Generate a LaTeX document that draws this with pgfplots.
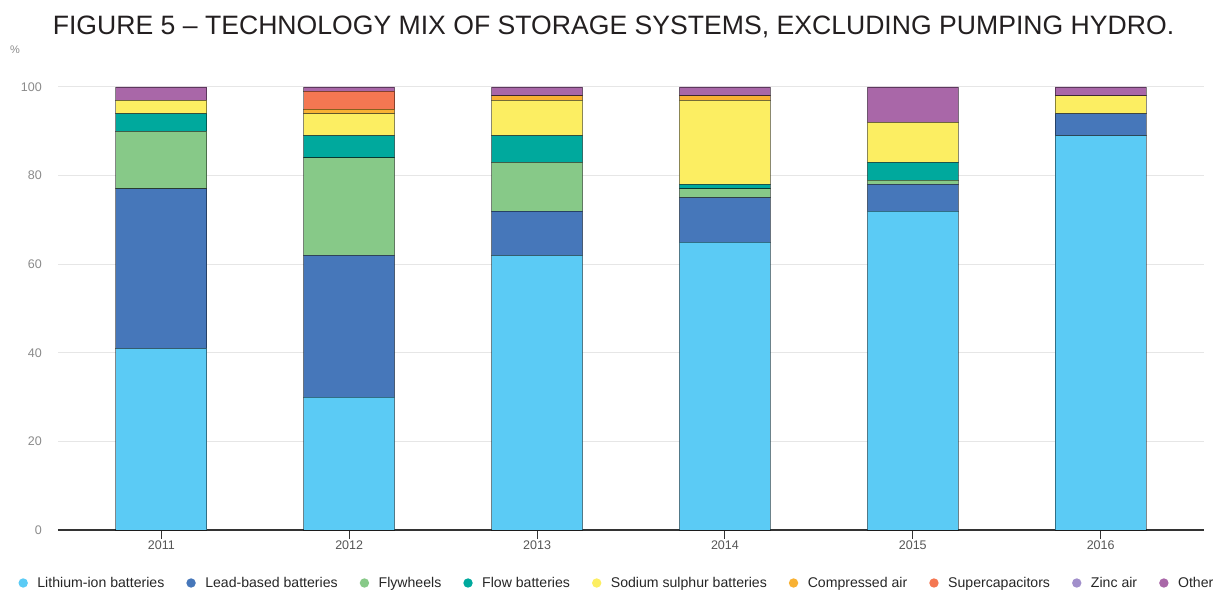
\documentclass[border=0pt]{standalone}
\usepackage{pgfplots}
\usepackage{pgfplotstable}
\pgfplotsset{compat=1.18}
\usepackage{fontspec}
\setmainfont{Liberation Sans}

\definecolor{cLi}{HTML}{5BCBF5}
\definecolor{cLead}{HTML}{4677BA}
\definecolor{cFly}{HTML}{87C988}
\definecolor{cFlow}{HTML}{00A99D}
\definecolor{cNaS}{HTML}{FCEE62}
\definecolor{cAir}{HTML}{F8B133}
\definecolor{cSup}{HTML}{F47752}
\definecolor{cZinc}{HTML}{A18FCB}
\definecolor{cOther}{HTML}{A967A8}
\definecolor{gridgray}{HTML}{E6E6E6}
\definecolor{axisdark}{HTML}{333333}
\definecolor{ticktext}{HTML}{555555}
\definecolor{ylabtext}{HTML}{8A8A8A}
\definecolor{titletext}{HTML}{231F20}

% Share of each technology (%), one row per year
\pgfplotstableread{
x  Li  Lead Fly Flow NaS Air Sup Other
0  41  36   13  4    3   0   0   3
1  30  32   22  5    5   1   4   1
2  62  10   11  6    8   1   0   2
3  65  10   2   1    19  1   0   2
4  72  6    1   4    9   0   0   8
5  89  5    0   0    4   0   0   2
}\mix

\pgfplotsset{
  seg/.style={fill=#1, draw=black, draw opacity=0.45, line width=0.8pt,
    legend image code/.code={\fill[draw=none] (4.7pt,0pt) circle (4.7pt);}},
}

\begin{document}
\begin{tikzpicture}
\useasboundingbox (0,0) rectangle (1227pt,596pt);

\node[anchor=base, text=titletext, font=\fontsize{26.6}{28}\selectfont]
  at (613.5pt,561.7pt) {FIGURE 5 – TECHNOLOGY MIX OF STORAGE SYSTEMS, EXCLUDING PUMPING HYDRO.};
\node[text=ylabtext, font=\fontsize{11}{12}\selectfont] at (15pt,546pt) {\%};

\begin{axis}[
  at={(58pt,66pt)}, anchor=south west,
  scale only axis, width=1146pt, height=443pt,
  ybar stacked, bar width=91pt,
  xmin=-0.55, xmax=5.55, ymin=0, ymax=100, clip=false,
  xtick={0,...,5}, xticklabels={2011,2012,2013,2014,2015,2016},
  ytick={0,20,...,100},
  /pgf/number format/assume math mode=true,
  axis x line*=bottom, axis y line*=left,
  x axis line style={draw=axisdark, line width=1.2pt, -},
  y axis line style={draw=none},
  tick align=outside, major tick length=9pt,
  xtick style={draw=axisdark, line width=1pt},
  ytick style={draw=none},
  ymajorgrids, grid style={draw=gridgray, line width=1pt},
  xticklabel style={font=\fontsize{12.5}{14}\selectfont, text=ticktext, inner sep=0pt, yshift=-1.7pt},
  yticklabel style={font=\fontsize{12.5}{14}\selectfont, text=ylabtext, inner sep=0pt, xshift=-7pt},
  legend columns=9,
  legend style={at={(0,0)}, anchor=west, xshift=-39.5pt, yshift=-53pt,
    draw=none, fill=none, inner sep=0pt, outer sep=0pt,
    font=\fontsize{14.1}{16}\selectfont, text=black!85,
    nodes={inner sep=0pt},
    /tikz/every odd column/.append style={column sep=9.5pt},
    /tikz/every even column/.append style={column sep=22pt}},
]
\addplot[seg=cLi]    table[x=x, y=Li]    {\mix};
\addlegendentry{Lithium-ion batteries}
\addplot[seg=cLead]  table[x=x, y=Lead]  {\mix};
\addlegendentry{Lead-based batteries}
\addplot[seg=cFly]   table[x=x, y=Fly]   {\mix};
\addlegendentry{Flywheels}
\addplot[seg=cFlow]  table[x=x, y=Flow]  {\mix};
\addlegendentry{Flow batteries}
\addplot[seg=cNaS]   table[x=x, y=NaS]   {\mix};
\addlegendentry{Sodium sulphur batteries}
\addplot[seg=cAir]   table[x=x, y=Air]   {\mix};
\addlegendentry{Compressed air}
\addplot[seg=cSup]   table[x=x, y=Sup]   {\mix};
\addlegendentry{Supercapacitors}
\addlegendimage{seg=cZinc}
\addlegendentry{Zinc air}
\addplot[seg=cOther] table[x=x, y=Other] {\mix};
\addlegendentry{Other}
\end{axis}
\end{tikzpicture}
\end{document}
